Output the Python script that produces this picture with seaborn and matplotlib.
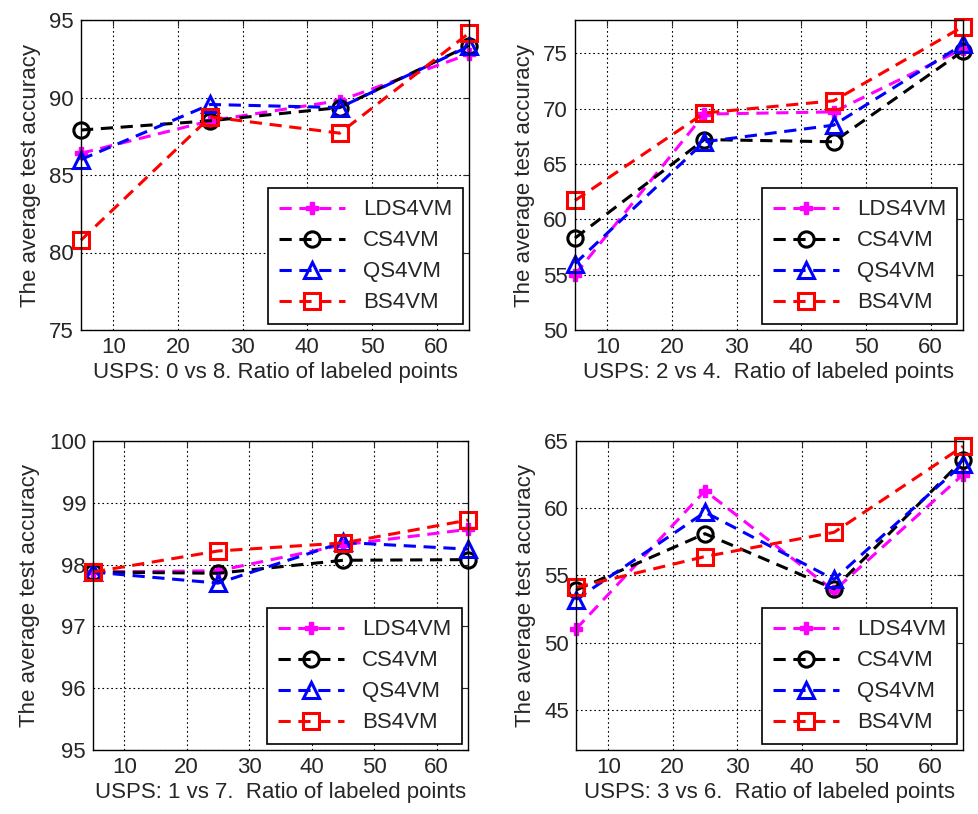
import matplotlib
matplotlib.use("Agg")
import matplotlib.pyplot as plt
import seaborn as sns
import pandas as pd

sns.set_style("white")
plt.rcParams['font.family'] = ['Liberation Sans', 'DejaVu Sans']

ratios = [5, 25, 45, 65]
methods = ["LDS4VM", "CS4VM", "QS4VM", "BS4VM"]

# USPS 0 vs 8
p08_lds = [86.4, 88.5, 89.8, 92.8]
p08_cs = [87.9, 88.5, 89.35, 93.35]
p08_qs = [86.0, 89.55, 89.35, 93.3]
p08_bs = [80.8, 88.75, 87.7, 94.15]

# USPS 2 vs 4
p24_lds = [55.0, 69.5, 69.7, 75.4]
p24_cs = [58.3, 67.2, 67.0, 75.2]
p24_qs = [56.0, 67.0, 68.5, 75.8]
p24_bs = [61.7, 69.6, 70.7, 77.4]

# USPS 1 vs 7
p17_lds = [97.88, 97.9, 98.32, 98.57]
p17_cs = [97.88, 97.86, 98.07, 98.08]
p17_qs = [97.88, 97.7, 98.36, 98.25]
p17_bs = [97.88, 98.22, 98.35, 98.72]

# USPS 3 vs 6
p36_lds = [51.0, 61.3, 53.85, 62.5]
p36_cs = [53.9, 58.1, 54.0, 63.6]
p36_qs = [53.2, 59.7, 54.7, 63.3]
p36_bs = [54.1, 56.4, 58.2, 64.6]

panels = [
    ("USPS: 0 vs 8. Ratio of labeled points", [p08_lds, p08_cs, p08_qs, p08_bs], (75, 95), [75, 80, 85, 90, 95]),
    ("USPS: 2 vs 4.  Ratio of labeled points", [p24_lds, p24_cs, p24_qs, p24_bs], (50, 78), [50, 55, 60, 65, 70, 75]),
    ("USPS: 1 vs 7.  Ratio of labeled points", [p17_lds, p17_cs, p17_qs, p17_bs], (95, 100), [95, 96, 97, 98, 99, 100]),
    ("USPS: 3 vs 6.  Ratio of labeled points", [p36_lds, p36_cs, p36_qs, p36_bs], (42, 65), [45, 50, 55, 60, 65]),
]

styles = [
    dict(color="#ff00ff", marker="P", ms=9, mfc="#ff00ff", mew=1.0),
    dict(color="black", marker="o", ms=11, mfc="none", mew=2.2),
    dict(color="blue", marker="^", ms=12, mfc="none", mew=2.2),
    dict(color="red", marker="s", ms=11, mfc="none", mew=2.2),
]

W, H = 979, 814
fig = plt.figure(figsize=(W / 100, H / 100), dpi=100)
positions = [
    (81, 20, 469, 330),
    (575, 20, 963, 330),
    (93, 441, 468, 750),
    (576, 441, 963, 750),
]

for (xlabel, series, ylim, yticks), (l, t, r, b) in zip(panels, positions):
    ax = fig.add_axes([l / W, 1 - b / H, (r - l) / W, (b - t) / H])
    for name, vals, st in zip(methods, series, styles):
        df = pd.DataFrame({"ratio": ratios, "acc": vals})
        sns.lineplot(data=df, x="ratio", y="acc", ax=ax, label=name,
                     color=st["color"], linewidth=2.2)
        ln = ax.lines[-1]
        ln.set_linestyle((0, (4, 2.5)))
        ln.set_marker(st["marker"])
        ln.set_markersize(st["ms"])
        ln.set_markerfacecolor(st["mfc"])
        ln.set_markeredgecolor(st["color"])
        ln.set_markeredgewidth(st["mew"])
        ln.set_clip_on(False)
    ax.set_xlim(5, 65)
    ax.set_ylim(*ylim)
    ax.set_xticks([10, 20, 30, 40, 50, 60])
    ax.set_yticks(yticks)
    ax.tick_params(labelsize=16, direction="in", length=4, top=True, right=True, pad=5)
    ax.set_xlabel(xlabel, fontsize=16, labelpad=3)
    ax.set_ylabel("The average test accuracy", fontsize=16, labelpad=6)
    ax.grid(True, color="black", linestyle=(0, (1.5, 2.5)), linewidth=0.8)
    for s in ax.spines.values():
        s.set_color("black")
        s.set_linewidth(1.0)
    leg = ax.legend(loc="lower right", fontsize=16, frameon=True, fancybox=False,
                    edgecolor="black", framealpha=1, borderaxespad=0.25,
                    handlelength=3.0, labelspacing=0.45, borderpad=0.5, handletextpad=0.8)
    leg.get_frame().set_linewidth(1.2)
    leg.set_zorder(5)

fig.savefig("out.png", dpi=100)
